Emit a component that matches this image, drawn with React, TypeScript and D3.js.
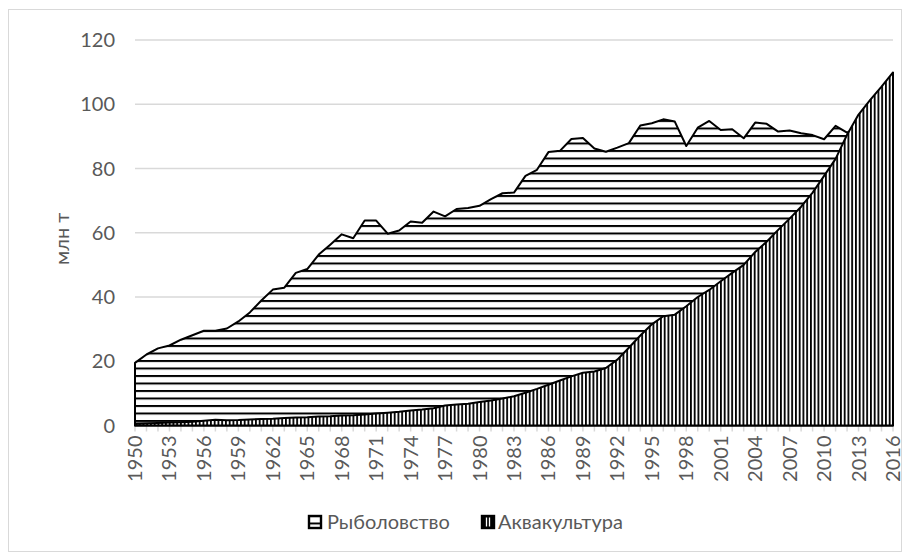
import React from "react";
import * as d3 from "d3";

const years = d3.range(1950, 2017).map(String);

// млн т
const fishing = [
  19.5, 22.1, 24.0, 24.9, 26.7, 28.1, 29.5, 29.5, 30.2, 32.4,
  35.2, 38.9, 42.3, 42.9, 47.5, 48.7, 53.2, 56.3, 59.5, 58.3,
  63.8, 63.8, 59.7, 60.7, 63.5, 63.1, 66.6, 65.1, 67.4, 67.7,
  68.4, 70.5, 72.3, 72.5, 77.7, 79.6, 85.1, 85.5, 89.2, 89.5,
  86.2, 85.2, 86.5, 87.9, 93.4, 94.1, 95.3, 94.6, 87.0, 92.7,
  94.8, 92.0, 92.2, 89.4, 94.3, 93.9, 91.5, 91.8, 91.0, 90.4,
  89.1, 93.3, 91.2, 92.5, 93.0, 92.5, 91.0,
];

const aquaculture = [
  0.6, 0.7, 0.8, 0.9, 1.0, 1.2, 1.5, 1.8, 1.6, 1.7,
  1.9, 2.0, 2.1, 2.3, 2.5, 2.6, 2.8, 2.9, 3.1, 3.2,
  3.4, 3.7, 4.0, 4.3, 4.7, 5.0, 5.4, 6.2, 6.5, 6.8,
  7.3, 7.8, 8.4, 9.1, 10.2, 11.4, 12.7, 14.0, 15.3, 16.4,
  16.8, 17.9, 20.5, 24.2, 28.0, 31.5, 34.0, 34.5, 37.1, 40.0,
  42.2, 44.9, 47.5, 50.0, 54.0, 57.2, 60.9, 64.4, 68.1, 72.5,
  77.7, 83.0, 90.5, 96.8, 101.3, 105.5, 109.9,
];

const yTicks = [0, 20, 40, 60, 80, 100, 120];
const labelYears = years.filter((d, i) => i % 3 === 0);

const seriesNames = ["Рыболовство", "Аквакультура"];
const yTitle = "млн т";

const W = 910, H = 554;
const left = 135, right = 893, top = 40, bottom = 425.5;
const textColor = "#595959";
const font = "Lato, 'Open Sans', sans-serif";
const fs = 20;

export default function App() {
  const x = d3.scalePoint<string>().domain(years).range([left, right]).padding(0);
  const y = d3.scaleLinear().domain([0, 120]).range([bottom, top]);

  const areaGen = (vals: number[]) =>
    d3.area<number>()
      .x((d, i) => x(years[i]) as number)
      .y0(y(0))
      .y1(d => y(d))(vals) + "";

  // close outline fully (Excel draws borders on all edges)
  const outline = (vals: number[]) => {
    const line = d3.line<number>()
      .x((d, i) => x(years[i]) as number)
      .y(d => y(d))(vals);
    return `M${left},${y(0)}L${line!.slice(1)}L${right},${y(0)}Z`;
  };

  return (
    <svg width={W} height={H} style={{ position: "absolute", left: 0, top: 0, background: "#fff" }}>
      <defs>
        <pattern id="horiz" patternUnits="userSpaceOnUse" width={8} height={7.5}>
          <rect width={8} height={7.5} fill="#fff" />
          <rect y={0} width={8} height={2} fill="#000" />
        </pattern>
        <pattern id="vert" patternUnits="userSpaceOnUse" width={3.75} height={8}>
          <rect width={3.75} height={8} fill="#fff" />
          <rect x={0} width={1.8} height={8} fill="#000" />
        </pattern>
      </defs>

      <rect x={8.5} y={9.5} width={W - 17} height={H - 12} fill="none" stroke="#d9d9d9" />

      {yTicks.map(t => (
        <g key={t}>
          {t > 0 && (
            <line x1={left} x2={right} y1={y(t)} y2={y(t)} stroke="#d9d9d9" strokeWidth={1.5} />
          )}
          <text x={115} y={y(t)} dy="0.35em" textAnchor="end" fontFamily={font} fontSize={fs} fill={textColor}>
            {t}
          </text>
        </g>
      ))}

      {years.map(yr => (
        <line key={yr} x1={x(yr)} x2={x(yr)} y1={bottom} y2={bottom + 6} stroke="#d9d9d9" strokeWidth={1.5} />
      ))}

      <path d={areaGen(fishing)} fill="url(#horiz)" />
      <path d={outline(fishing)} fill="none" stroke="#000" strokeWidth={2} strokeLinejoin="round" />
      <path d={areaGen(aquaculture)} fill="url(#vert)" />
      <path d={outline(aquaculture)} fill="none" stroke="#000" strokeWidth={2} strokeLinejoin="round" />

      {labelYears.map(yr => (
        <text
          key={yr}
          transform={`translate(${x(yr)},${bottom + 10}) rotate(-90)`}
          textAnchor="end"
          dy="0.35em"
          fontFamily={font}
          fontSize={fs}
          fill={textColor}
        >
          {yr}
        </text>
      ))}

      <text
        transform={`translate(62,${(top + bottom) / 2 + 6}) rotate(-90)`}
        textAnchor="middle"
        dy="0.35em"
        fontFamily={font}
        fontSize={fs}
        fill={textColor}
      >
        {yTitle}
      </text>

      <g transform="translate(308,515)">
        <rect x={1} y={1} width={12} height={12} fill="url(#horiz)" stroke="#000" strokeWidth={2.4} />
        <text x={19} y={7} dy="0.35em" fontFamily={font} fontSize={fs} fill={textColor}>{seriesNames[0]}</text>
      </g>
      <g transform="translate(481,515)">
        <rect x={1} y={1} width={12} height={12} fill="#000" stroke="#000" strokeWidth={2.4} />
        <line x1={5.5} x2={5.5} y1={2.5} y2={11.5} stroke="#fff" strokeWidth={1.3} />
        <line x1={8.5} x2={8.5} y1={2.5} y2={11.5} stroke="#fff" strokeWidth={1.3} />
        <text x={17} y={7} dy="0.35em" fontFamily={font} fontSize={fs} fill={textColor}>{seriesNames[1]}</text>
      </g>
    </svg>
  );
}
